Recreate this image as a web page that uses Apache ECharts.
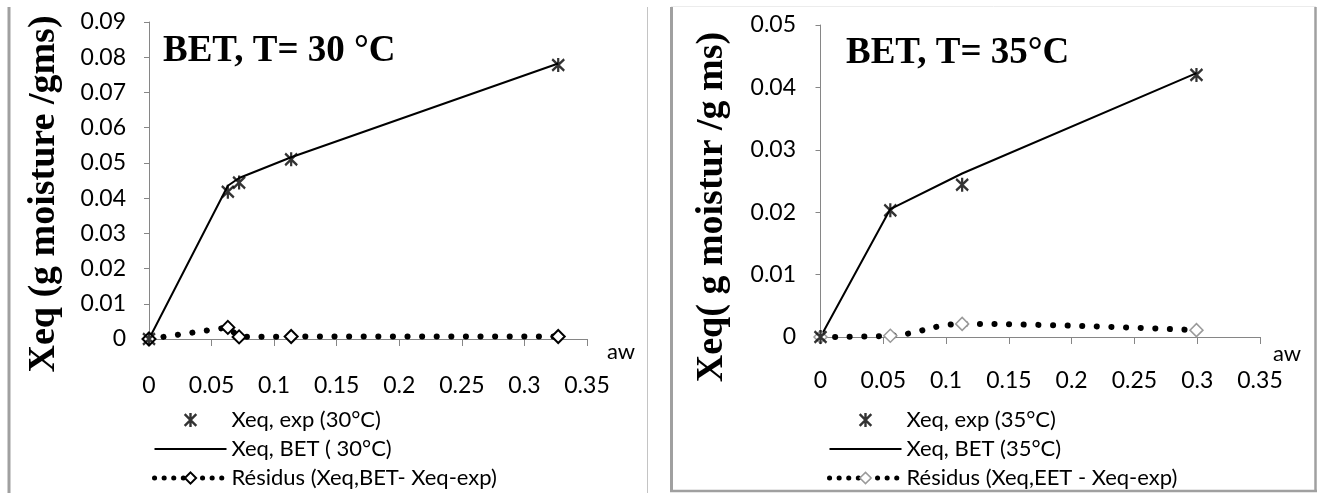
<!DOCTYPE html>
<html><head><meta charset="utf-8">
<script src="https://cdn.jsdelivr.net/npm/echarts@6/dist/echarts.min.js"></script>
<style>html,body{margin:0;padding:0;background:#fff}#c{width:1319px;height:493px}</style>
</head><body><div id="c"></div>
<script>
// ---- data ----
const awLeft   = [0, 0.063, 0.072, 0.1136, 0.327];
const expLeft  = [0, 0.0418, 0.0444, 0.0510, 0.0778];
const betLeft  = [0, 0.0435, 0.0457, 0.0516, 0.0782];
const resLeft  = [0, 0.0033, 0.0006, 0.0007, 0.0007];
const awRight  = [0, 0.0556, 0.1128, 0.2994];
const expRight = [0, 0.0203, 0.0244, 0.0420];
const betRight = [0, 0.0205, 0.0262, 0.0423];
const resRight = [0, 0.0002, 0.0021, 0.0011];
const namesLeft  = ['Xeq, exp (30°C)', 'Xeq, BET ( 30°C)', 'Résidus (Xeq,BET- Xeq-exp)'];
const namesRight = ['Xeq, exp (35°C)', 'Xeq, BET (35°C)', 'Résidus (Xeq,EET - Xeq-exp)'];
const titles = ['BET, T= 30 °C', 'BET, T= 35°C'];
const yNames = ['Xeq (g moisture /gms)', 'Xeq( g moistur /g ms)'];
const xName = 'aw';
const xScale = {min: 0, max: 0.35, interval: 0.05};
const yScaleLeft = {min: 0, max: 0.09, interval: 0.01};
const yScaleRight = {min: 0, max: 0.05, interval: 0.01};

// ---- styles ----
const STAR = 'path://M0 1L10 11M10 1L0 11M5 0L5 12';
const AX = '#868686';
const LBL = {fontFamily: 'Lato', fontSize: 23, color: '#000'};
const pairs = (xs, ys) => xs.map((x, i) => [x, ys[i]]);
const yFmt = v => v === 0 ? '0' : v.toFixed(2);

function xAxis(gi, margin, gap, lh) {
  return Object.assign({
    type: 'value', gridIndex: gi, name: xName, nameLocation: 'end', nameGap: gap, nameMoveOverlap: false,
    nameTextStyle: {fontFamily: 'Lato', fontSize: 22, color: '#000', verticalAlign: 'top', align: 'left', lineHeight: lh},
    axisLine: {show: true, lineStyle: {color: AX, width: 1}},
    axisTick: {show: true, length: 7, lineStyle: {color: AX}},
    axisLabel: Object.assign({margin: margin, lineHeight: 23}, LBL),
    splitLine: {show: false}
  }, xScale);
}
function yAxis(gi, sc, margin) {
  return Object.assign({
    type: 'value', gridIndex: gi,
    axisLine: {show: true, lineStyle: {color: AX, width: 1}},
    axisTick: {show: true, length: 5, lineStyle: {color: AX}},
    axisLabel: Object.assign({margin: margin, formatter: yFmt}, LBL),
    splitLine: {show: false}
  }, sc);
}
function seriesSet(gi, names, aw, exp, bet, res, diaColor, diaW, smooth) {
  return [
    {name: names[1], type: 'line', xAxisIndex: gi, yAxisIndex: gi, data: pairs(aw, bet),
     symbol: 'none', lineStyle: {color: '#000', width: 2}, itemStyle: {color: '#000'}, z: 2, animation: false},
    {name: names[2], type: 'line', xAxisIndex: gi, yAxisIndex: gi, data: pairs(aw, res), smooth: smooth,
     symbol: 'diamond', symbolSize: 13, showSymbol: true,
     lineStyle: {color: '#000', width: 6, type: [0.1, 14.5], cap: 'round'},
     itemStyle: {color: '#fff', borderColor: diaColor, borderWidth: diaW}, z: 3, animation: false},
    {name: names[0], type: 'scatter', xAxisIndex: gi, yAxisIndex: gi, data: pairs(aw, exp),
     symbol: STAR, symbolSize: [12, 14],
     itemStyle: {color: '#000', borderColor: '#000', borderWidth: 2.4}, z: 4, animation: false}
  ];
}
function legend(left, top, names, diaColor, diaW) {
  return {
    orient: 'vertical', left: left, top: top, padding: 0, itemWidth: 72, itemHeight: 14, itemGap: 7,
    textStyle: {fontFamily: 'Lato', fontSize: 22, color: '#000', lineHeight: 22},
    data: [
      {name: names[0], itemStyle: {color: '#000', borderColor: '#000', borderWidth: 2.4}},
      {name: names[1], itemStyle: {color: 'transparent', borderColor: 'transparent', borderWidth: 0, opacity: 0},
       lineStyle: {color: '#000', width: 2}},
      {name: names[2], itemStyle: {color: '#fff', borderColor: diaColor, borderWidth: diaW},
       lineStyle: {color: '#000', width: 5, type: [0.1, 9.5], cap: 'round'}}
    ]
  };
}
const serif = {fontFamily: 'Liberation Serif', fontWeight: 'bold', fill: '#000'};

const option = {
  animation: false,
  backgroundColor: '#fff',
  title: [
    {text: titles[0], left: 163, top: 33, padding: 0,
     textStyle: {fontFamily: 'Liberation Serif', fontWeight: 'bold', fontSize: 37, color: '#000'}},
    {text: titles[1], left: 846, top: 35, padding: 0,
     textStyle: {fontFamily: 'Liberation Serif', fontWeight: 'bold', fontSize: 37, color: '#000'}}
  ],
  grid: [
    {left: 149, top: 22, width: 438, height: 317},
    {left: 820.5, top: 25, width: 439.5, height: 312}
  ],
  xAxis: [xAxis(0, 35, 20, 25), xAxis(1, 32, 13, 33)],
  yAxis: [yAxis(0, yScaleLeft, 23), yAxis(1, yScaleRight, 24.5)],
  legend: [
    legend(152, 409, namesLeft, '#000', 2),
    legend(827, 409, namesRight, '#9a9a9a', 1.5)
  ],
  series: [].concat(
    seriesSet(0, namesLeft, awLeft, expLeft, betLeft, resLeft, '#000', 2, false),
    seriesSet(1, namesRight, awRight, expRight, betRight, resRight, '#9a9a9a', 1.5, 0.4)
  ),
  graphic: [
    {type: 'text', x: 44, y: 194, rotation: Math.PI / 2,
     style: Object.assign({text: yNames[0], fontSize: 38, align: 'center', verticalAlign: 'middle'}, serif)},
    {type: 'text', x: 712, y: 207, rotation: Math.PI / 2,
     style: Object.assign({text: yNames[1], fontSize: 38, align: 'center', verticalAlign: 'middle'}, serif)},
    {type: 'line', shape: {x1: 9, y1: 7, x2: 9, y2: 493}, style: {stroke: '#a0a0a0', lineWidth: 3}},
    {type: 'line', shape: {x1: 647.5, y1: 7, x2: 647.5, y2: 493}, style: {stroke: '#c4c4c4', lineWidth: 1}},
    {type: 'line', shape: {x1: 671.5, y1: 7, x2: 671.5, y2: 491}, style: {stroke: '#a0a0a0', lineWidth: 3}},
    {type: 'line', shape: {x1: 1315.5, y1: 7, x2: 1315.5, y2: 491}, style: {stroke: '#a0a0a0', lineWidth: 2.5}},
    {type: 'line', shape: {x1: 670, y1: 491, x2: 1317, y2: 491}, style: {stroke: '#a0a0a0', lineWidth: 2.5}},
    {type: 'line', shape: {x1: 671, y1: 6.5, x2: 1316, y2: 6.5}, style: {stroke: '#ececec', lineWidth: 1}}
  ]
};
const chart = echarts.init(document.getElementById('c'), null, {renderer: 'canvas'});
chart.setOption(option);
</script></body></html>
